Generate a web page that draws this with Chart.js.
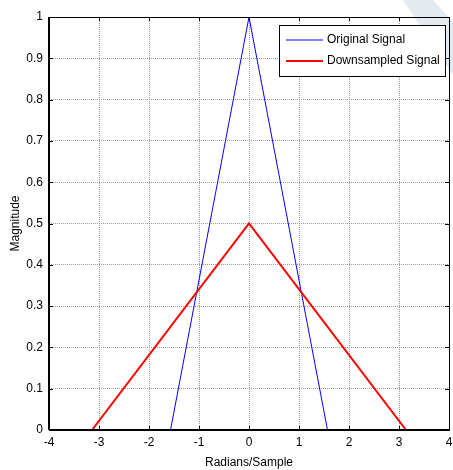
<!DOCTYPE html>
<html>
<head>
<meta charset="utf-8">
<script src="https://cdn.jsdelivr.net/npm/chart.js@4/dist/chart.umd.min.js"></script>
<style>
  html, body { margin: 0; padding: 0; background: #fff; }
  #wrap { position: relative; width: 453px; height: 470px; }
</style>
</head>
<body>
<div id="wrap"><canvas id="myChart" width="453" height="470"></canvas></div>
<script>
// frequency axis in radians/sample
const originalX = [-3.14, -1.57, 0, 1.57, 3.0];
const originalY = [0, 0, 1, 0, 0];
const downX = [-3.14, 0, 3.14];
const downY = [0, 0.5, 0];

const xTicks = [-4, -3, -2, -1, 0, 1, 2, 3, 4];
const yTicks = [0, 0.1, 0.2, 0.3, 0.4, 0.5, 0.6, 0.7, 0.8, 0.9, 1];

const FONT = 'Liberation Sans, Arial, sans-serif';

function toPoints(xs, ys) {
  return xs.map((x, i) => ({ x, y: ys[i] }));
}

// faint page decoration in the top right corner
const cornerPlugin = {
  id: 'corner',
  beforeDraw(chart) {
    const { ctx, width } = chart;
    ctx.save();
    ctx.fillStyle = '#e4ebf0';
    ctx.beginPath();
    ctx.moveTo(width - 50, 0);
    ctx.lineTo(width - 20, 0);
    ctx.lineTo(width, 22);
    ctx.lineTo(width, 75);
    ctx.closePath();
    ctx.fill();
    ctx.restore();
  },
};

// box around the axes, inward ticks and the legend box
const framePlugin = {
  id: 'frame',
  afterDatasetsDraw(chart) {
    const { ctx, chartArea: a, scales } = chart;
    ctx.save();
    ctx.strokeStyle = '#000';
    ctx.lineWidth = 1;

    ctx.beginPath();
    xTicks.forEach(t => {
      const px = Math.round(scales.x.getPixelForValue(t)) + 0.5;
      ctx.moveTo(px, a.top);
      ctx.lineTo(px, a.top + 4);
      ctx.moveTo(px, a.bottom);
      ctx.lineTo(px, a.bottom - 4);
    });
    yTicks.forEach(t => {
      const py = Math.round(scales.y.getPixelForValue(t)) + 0.5;
      ctx.moveTo(a.left, py);
      ctx.lineTo(a.left + 4, py);
      ctx.moveTo(a.right, py);
      ctx.lineTo(a.right - 4, py);
    });
    ctx.stroke();

    ctx.lineWidth = 1;
    ctx.strokeRect(Math.round(a.left) + 0.5, Math.round(a.top) + 0.5,
      Math.round(a.right - a.left), Math.round(a.bottom - a.top));
    ctx.lineWidth = 2;
    ctx.beginPath();
    ctx.moveTo(a.left, Math.round(a.bottom));
    ctx.lineTo(a.right, Math.round(a.bottom));
    ctx.moveTo(Math.round(a.left), a.top);
    ctx.lineTo(Math.round(a.left), a.bottom);
    ctx.stroke();

    // legend
    const bx = a.right - 170, by = a.top + 8, bw = 166, bh = 51;
    ctx.fillStyle = '#fff';
    ctx.fillRect(bx, by, bw, bh);
    ctx.lineWidth = 1;
    ctx.strokeStyle = '#000';
    ctx.strokeRect(bx + 0.5, by + 0.5, bw, bh);
    ctx.font = '12px ' + FONT;
    ctx.textBaseline = 'middle';
    chart.data.datasets.forEach((ds, i) => {
      const ly = by + 15 + i * 21;
      ctx.strokeStyle = ds.borderColor;
      ctx.lineWidth = ds.borderWidth;
      ctx.beginPath();
      ctx.moveTo(bx + 7, ly);
      ctx.lineTo(bx + 44, ly);
      ctx.stroke();
      ctx.fillStyle = '#000';
      ctx.fillText(ds.label, bx + 48, ly);
    });
    ctx.restore();
  },
};

new Chart(document.getElementById('myChart').getContext('2d'), {
  type: 'line',
  data: {
    datasets: [
      {
        label: 'Original Signal',
        data: toPoints(originalX, originalY),
        borderColor: '#0000ff',
        borderWidth: 1,
        pointRadius: 0,
        order: 2,
      },
      {
        label: 'Downsampled Signal',
        data: toPoints(downX, downY),
        borderColor: '#ff0000',
        borderWidth: 2,
        pointRadius: 0,
        order: 1,
      },
    ],
  },
  options: {
    responsive: false,
    animation: false,
    layout: { padding: { left: 0, right: 4, top: 17, bottom: 0 } },
    plugins: { legend: { display: false }, tooltip: { enabled: false } },
    scales: {
      x: {
        type: 'linear',
        min: -4,
        max: 4,
        afterBuildTicks(scale) {
          scale.ticks = xTicks.map(value => ({ value }));
        },
        afterFit(scale) {
          scale.height = 40;
          scale.paddingLeft = 0;
          scale.paddingRight = 0;
        },
        grid: { color: '#9a9a9a', lineWidth: 1, drawTicks: false },
        border: { display: false, dash: [1, 1] },
        ticks: {
          color: '#000',
          font: { family: FONT, size: 12 },
          padding: 5,
          maxRotation: 0,
          callback: value => String(value),
        },
        title: {
          display: true,
          text: 'Radians/Sample',
          color: '#000',
          font: { family: FONT, size: 12 },
          padding: { top: 2, bottom: 0 },
        },
      },
      y: {
        type: 'linear',
        min: 0,
        max: 1,
        afterBuildTicks(scale) {
          scale.ticks = yTicks.map(value => ({ value }));
        },
        afterFit(scale) {
          scale.width = 49;
          scale.paddingTop = 0;
          scale.paddingBottom = 0;
        },
        grid: { color: '#9a9a9a', lineWidth: 1, drawTicks: false },
        border: { display: false, dash: [1, 1] },
        ticks: {
          color: '#000',
          font: { family: FONT, size: 12 },
          padding: 6,
          callback: value => String(value),
        },
        title: {
          display: true,
          text: 'Magnitude',
          color: '#000',
          font: { family: FONT, size: 12 },
          padding: { top: 8, bottom: 1 },
        },
      },
    },
  },
  plugins: [cornerPlugin, framePlugin],
});
</script>
</body>
</html>
